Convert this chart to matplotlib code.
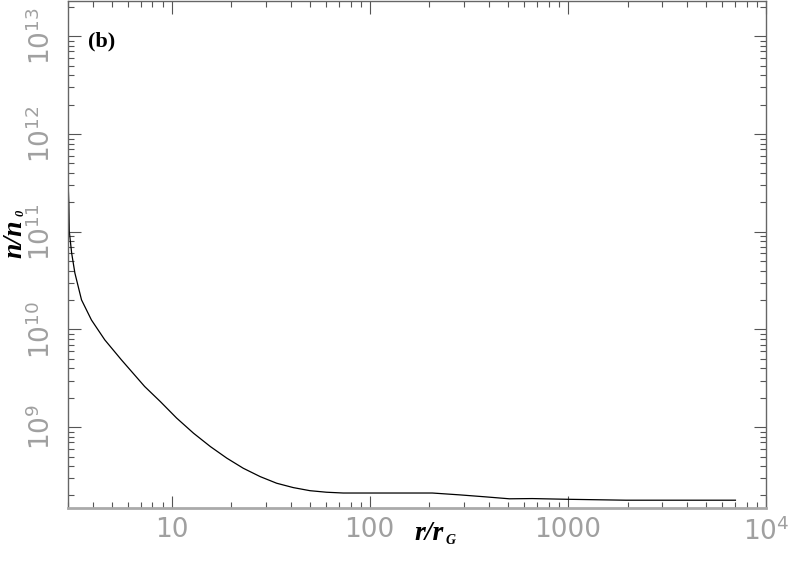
import matplotlib
matplotlib.use("Agg")
import matplotlib.pyplot as plt
from matplotlib.ticker import FixedLocator, LogLocator, NullFormatter

# values (log-log)
r = [3.0, 3.03, 3.045, 3.13, 3.25, 3.51, 3.94, 4.60, 5.58, 7.31, 8.77, 10.6,
     12.9, 15.7, 19.0, 23.0, 28.0, 33.9, 41.1, 49.9, 60.5, 73.5, 89.1, 100,
     207, 284, 380, 507, 661, 980, 1960, 7010]
n = [3.4e11, 1.89e11, 1.01e11, 6.05e10, 3.78e10, 2.01e10, 1.25e10, 7.83e9,
     4.89e9, 2.61e9, 1.83e9, 1.24e9, 8.68e8, 6.33e8, 4.82e8, 3.80e8, 3.12e8,
     2.67e8, 2.41e8, 2.24e8, 2.16e8, 2.12e8, 2.12e8, 2.12e8, 2.12e8, 2.03e8,
     1.94e8, 1.85e8, 1.86e8, 1.83e8, 1.79e8, 1.79e8]

xticks = [10, 100, 1000, 1e4]
xlabels = ["10", "100", "1000", r"$\mathregular{10^4}$"]
yticks = [1e9, 1e10, 1e11, 1e12, 1e13]
ylabels = [r"$\mathregular{10^{%d}}$" % e for e in range(9, 14)]

fig = plt.figure(figsize=(7.88, 5.62), dpi=100)
ax = fig.add_axes([68 / 788, 1 - 507.7 / 562, (766 - 68) / 788, (507.7 - 1) / 562])

ax.plot(r, n, color="black", lw=0.9)
ax.set_xscale("log")
ax.set_yscale("log")
ax.set_xlim(3, 1e4)
ax.set_ylim(1.5e8, 2.3e13)

gray = "#a0a0a0"
ax.xaxis.set_major_locator(FixedLocator(xticks))
ax.set_xticklabels(xlabels)
ax.yaxis.set_major_locator(FixedLocator(yticks))
ax.set_yticklabels(ylabels, rotation=90, va="center")
ax.xaxis.set_minor_locator(LogLocator(base=10, subs=range(2, 10), numticks=20))
ax.yaxis.set_minor_locator(LogLocator(base=10, subs=range(2, 10), numticks=20))
ax.xaxis.set_minor_formatter(NullFormatter())
ax.yaxis.set_minor_formatter(NullFormatter())

ax.tick_params(which="both", direction="in", top=True, right=True, color="#555555")
ax.tick_params(which="major", length=9, width=0.8, labelsize=19, labelcolor=gray)
ax.tick_params(which="minor", length=4.5, width=0.8)
ax.tick_params(axis="x", which="major", pad=7)
ax.tick_params(axis="y", which="major", pad=9)

for side in ["left", "right", "top"]:
    ax.spines[side].set_color("#666666")
    ax.spines[side].set_linewidth(1.0)
ax.spines["bottom"].set_color("#aaaaaa")
ax.spines["bottom"].set_linewidth(2.0)

serif = "Liberation Serif"
# x label r/r_G
fig.text(414 / 788, 1 - 540 / 562, "r/r", fontsize=20, family=serif,
         weight="bold", style="italic", ha="left", va="baseline")
fig.text(446 / 788, 1 - 544 / 562, "G", fontsize=10, family=serif,
         weight="bold", style="italic", ha="left", va="baseline")

# y label n/n_0
fig.text(21 / 788, 1 - 258 / 562, "n/n", fontsize=20, family=serif,
         weight="bold", style="italic", ha="left", va="baseline", rotation=90,
         rotation_mode="anchor")
fig.text(24 / 788, 1 - 216 / 562, "0", fontsize=9, family=serif,
         weight="bold", style="italic", ha="left", va="baseline", rotation=90,
         rotation_mode="anchor")

ax.text(88 / 788, 1 - 46 / 562, "(b)", transform=fig.transFigure, fontsize=16,
        family=serif, weight="bold", ha="left", va="baseline")

fig.savefig("out.png", dpi=100)
